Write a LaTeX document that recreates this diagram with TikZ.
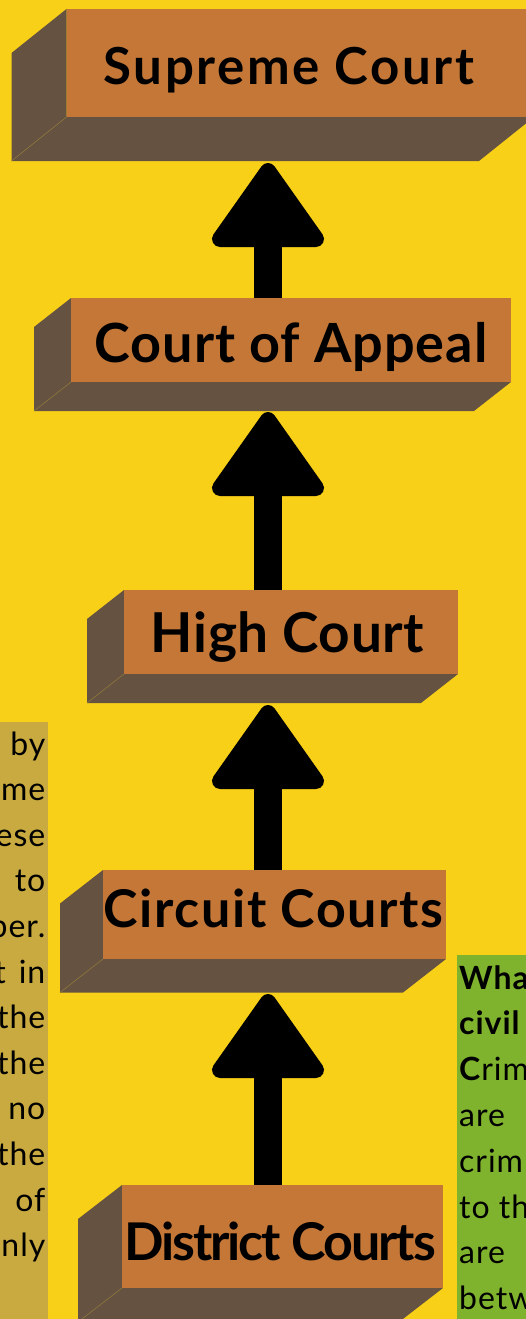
\documentclass[tikz,border=0pt]{standalone}
\usepackage{fontspec}
\setmainfont{Lato}
\usetikzlibrary{calc}
\definecolor{bgyellow}{RGB}{249,208,24}
\definecolor{frontor}{RGB}{196,119,55}
\definecolor{sidebrown}{RGB}{102,82,64}
\definecolor{edgeolive}{RGB}{140,120,60}
\definecolor{tanpanel}{RGB}{201,170,64}
\definecolor{greenpanel}{RGB}{127,178,45}
\newcommand\CourtBox[7]{%
  \fill[sideface] (#2,#3) -- ++(-#6,#7) -- (#2-#6,#5+#7) -- (#4-#6,#5+#7) -- (#4,#5) -- (#2,#5) -- cycle;
  \draw[edgeline] (#2,#5) -- ++(-#6,#7);
  \node[frontface, minimum width={#4pt-#2pt}, minimum height={#5pt-#3pt}] (#1) at ({(#2+#4)/2},{(#3+#5)/2}) {};
}
\newcommand\TitleFont[2]{\fontsize{#1}{60}\selectfont\bfseries\addfontfeature{LetterSpace=#2}}
\tikzset{
  sideface/.style={fill=sidebrown},
  edgeline/.style={draw=edgeolive, line width=0.6pt},
  frontface/.style={fill=frontor, draw=none, inner sep=0pt},
  courtlabel/.style={inner sep=0pt, anchor=base, text=black},
  arrowhead/.style={fill=black, draw=black, line width=16pt, line join=round},
  shaft/.style={fill=black},
  paratext/.style={font=\fontsize{32}{36}\selectfont\addfontfeature{LetterSpace=3}, inner sep=0pt, text=black},
  boldpara/.style={font=\fontsize{32}{36}\selectfont\bfseries\addfontfeature{LetterSpace=3}},
}
\begin{document}
\begin{tikzpicture}[x=1pt,y=-1pt]
\useasboundingbox (0,0) rectangle (526,1319);
\clip (0,0) rectangle (526,1319);
\fill[bgyellow] (0,0) rectangle (526,1319);

% side panels
\node[fill=tanpanel, inner sep=0pt, minimum width=48pt, minimum height=597pt, anchor=north west] (leftpanel) at (0,722) {};
\node[fill=greenpanel, inner sep=0pt, minimum width=69pt, minimum height=364pt, anchor=north west] (rightpanel) at (457,955) {};

\begin{scope}
\clip (0,722) rectangle (48,1319);
\foreach \w [count=\i from 0] in {by,me,ese,to,per.,in,the,the,no,the,of,nly}{
  \node[paratext, anchor=base east] (l\i) at (45.5,{755+45.6*\i}) {\w};
}
\node[paratext, anchor=base east] (l5t) at (6,{755+45.6*5}) {t};
\end{scope}

\begin{scope}
\clip (457,955) rectangle (526,1319);
\node[paratext, boldpara, anchor=base west] (r0) at (459,989) {Wha};
\node[paratext, boldpara, anchor=base west] (r1) at (459,1034.6) {civil};
\node[paratext, anchor=base west] (r2) at (459,1080.2) {\textbf{C}rim};
\node[paratext, anchor=base west] (r3) at (459,1126.5) {are};
\node[paratext, anchor=base west] (r4) at (459,1172.5) {crim};
\node[paratext, anchor=base west] (r5) at (459,1218) {to th};
\node[paratext, anchor=base west] (r6) at (459,1263.6) {are};
\node[paratext, anchor=base west] (r7) at (459,1309.2) {betw};
\end{scope}

% arrow tips
\coordinate (t1) at (268,171);
\coordinate (t2) at (268,420);
\coordinate (t3) at (268,713);
\coordinate (t4) at (268,1002);

% boxes
\CourtBox{supreme}{66.5}{9}{534}{117}{55}{44}
\CourtBox{appeal}{71}{298}{511}{382}{37}{29}
\CourtBox{high}{124}{590}{458}{674}{37}{29}
\CourtBox{circuit}{103}{870}{446}{959}{43}{33.5}
\CourtBox{district}{122}{1185}{443}{1288}{44}{34}

\foreach \t/\b in {t1/appeal,t2/high,t3/circuit,t4/district}{
  \fill[shaft] ($(\t)+(-14,50)$) rectangle ($(\t |- \b.north)+(14,0)$);
  \filldraw[arrowhead] (\t) -- ++(-48,68) -- ++(96,0) -- cycle;
}

\node[courtlabel, font=\TitleFont{51}{5}] (lsupreme) at (289,85) {Supreme Court};
\node[courtlabel, font=\TitleFont{54}{1.8}] (lappeal) at (291,362) {Court of Appeal};
\node[courtlabel, font=\TitleFont{55}{1}] (lhigh) at (287.5,652) {High Court};
\node[courtlabel, font=\TitleFont{52}{3}] (lcircuit) at (273.5,927) {Circuit Courts};
\node[courtlabel, font=\TitleFont{52}{-4}] (ldistrict) at (280,1260) {District Courts};
\end{tikzpicture}
\end{document}
